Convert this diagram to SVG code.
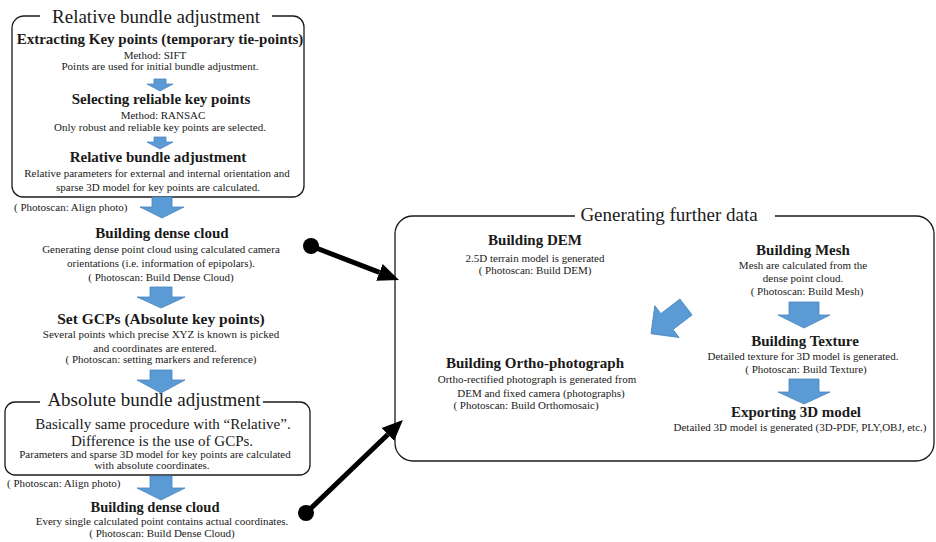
<svg xmlns="http://www.w3.org/2000/svg" width="936" height="542" viewBox="0 0 936 542">
<defs>
<marker id="ah" viewBox="0 -10 22 20" refX="0" refY="0" markerWidth="22" markerHeight="20" orient="auto" markerUnits="userSpaceOnUse"><path d="M0,-9 L21,0 L0,9 z" fill="#000"/></marker>
<marker id="dot" viewBox="-9 -9 18 18" refX="0" refY="0" markerWidth="18" markerHeight="18" markerUnits="userSpaceOnUse"><circle r="8" fill="#000"/></marker>
</defs>
<rect width="936" height="542" fill="#fff"/>
<g font-family="Liberation Serif" fill="#1a1a1a" text-anchor="middle">
<g fill="none" stroke="#1a1a1a" stroke-width="1.3">
<path id="relative-box" d="M40,16 H24 A12,12 0 0 0 12,28 V186 A11,11 0 0 0 23,197 H293 A11,11 0 0 0 304,186 V27 A11,11 0 0 0 293,16 H272"/>
<path id="absolute-frame" d="M40,402 H15 A10,10 0 0 0 5,412 V465 A10,10 0 0 0 15,475 H300 A10,10 0 0 0 310,465 V412 A10,10 0 0 0 300,402 H263"/>
<path id="further-box" d="M575,216 H413 A18,18 0 0 0 395,234 V443 A18,18 0 0 0 413,461 H916 A18,18 0 0 0 934,443 V234 A18,18 0 0 0 916,216 H775"/>
</g>
<g id="relative-title">
<text font-size="19" x="156" y="23">Relative bundle adjustment</text>
</g>
<g id="extract">
<text font-size="15" font-weight="bold" x="160" y="44">Extracting Key points (temporary tie-points)</text>
<text font-size="11" x="155" y="59">Method: SIFT</text>
<text font-size="11" x="160" y="70">Points are used for initial bundle adjustment.</text>
</g>
<g id="select">
<text font-size="15" font-weight="bold" x="161" y="104">Selecting reliable key points</text>
<text font-size="11" x="163" y="119">Method: RANSAC</text>
<text font-size="11" x="160" y="131">Only robust and reliable key points are selected.</text>
</g>
<g id="relative">
<text font-size="15" font-weight="bold" x="158" y="162">Relative bundle adjustment</text>
<text font-size="11" x="157" y="177">Relative parameters for external and internal orientation and</text>
<text font-size="11" x="158" y="191">sparse 3D model for key points are calculated.</text>
</g>
<text font-size="11" text-anchor="start" x="14" y="211">( Photoscan: Align photo)</text>
<g id="dense1">
<text font-size="15" font-weight="bold" x="162" y="238">Building dense cloud</text>
<text font-size="11" x="161" y="253">Generating dense point cloud using calculated camera</text>
<text font-size="11" x="161" y="267">orientations (i.e. information of epipolars).</text>
<text font-size="11" x="161" y="281">( Photoscan: Build Dense Cloud)</text>
</g>
<g id="gcps">
<text font-size="15.5" font-weight="bold" x="161" y="324">Set GCPs (Absolute key points)</text>
<text font-size="11" x="161" y="338">Several points which precise XYZ is known is picked</text>
<text font-size="11" x="155" y="352">and coordinates are entered.</text>
<text font-size="11" x="161" y="363">( Photoscan: setting markers and reference)</text>
</g>
<g id="absolute">
<text font-size="19" x="154" y="406">Absolute bundle adjustment</text>
<text font-size="15" x="163" y="429">Basically same procedure with &#8220;Relative&#8221;.</text>
<text font-size="15" x="162" y="446">Difference is the use of GCPs.</text>
<text font-size="11" x="155" y="458">Parameters and sparse 3D model for key points are calculated</text>
<text font-size="11" x="152" y="469">with absolute coordinates.</text>
</g>
<text font-size="11" text-anchor="start" x="7" y="487">( Photoscan: Align photo)</text>
<g id="dense2">
<text font-size="14.5" font-weight="bold" x="155" y="512">Building dense cloud</text>
<text font-size="11" x="162" y="525">Every single calculated point contains actual coordinates.</text>
<text font-size="11" x="162" y="537">( Photoscan: Build Dense Cloud)</text>
</g>
<g id="further-title">
<text font-size="19" x="669" y="221">Generating further data</text>
</g>
<g id="dem">
<text font-size="15" font-weight="bold" x="535" y="245">Building DEM</text>
<text font-size="11" x="535" y="262">2.5D terrain model is generated</text>
<text font-size="11" x="535" y="274">( Photoscan: Build DEM)</text>
</g>
<g id="mesh">
<text font-size="15" font-weight="bold" x="803" y="255">Building Mesh</text>
<text font-size="11" x="803" y="269">Mesh are calculated from the</text>
<text font-size="11" x="803" y="282">dense point cloud.</text>
<text font-size="11" x="807" y="295">( Photoscan: Build Mesh)</text>
</g>
<g id="texture">
<text font-size="15" font-weight="bold" x="805" y="346">Building Texture</text>
<text font-size="11" x="803" y="360">Detailed texture for 3D model is generated.</text>
<text font-size="11" x="806" y="373">( Photoscan: Build Texture)</text>
</g>
<g id="export">
<text font-size="15" font-weight="bold" x="796" y="417">Exporting 3D model</text>
<text font-size="11" x="800" y="431">Detailed 3D model is generated (3D-PDF, PLY,OBJ, etc.)</text>
</g>
<g id="ortho">
<text font-size="15" font-weight="bold" x="535" y="368">Building Ortho-photograph</text>
<text font-size="11" x="537" y="383">Ortho-rectified photograph is generated from</text>
<text font-size="11" x="541" y="397">DEM and fixed camera (photographs)</text>
<text font-size="11" x="526" y="409">( Photoscan: Build Orthomosaic)</text>
</g>
</g>
<g id="connectors">
<g fill="#5B9BD5" stroke="#4A84BC" stroke-width="0.8">
<polygon points="154,79 166,79 166,84 173,84 160,91 147,84 154,84"/>
<polygon points="154,137 166,137 166,142 173,142 160,149 147,142 154,142"/>
<polygon points="152,197 172,197 172,207 184,207 162,218 140,207 152,207"/>
<polygon points="150,287 172,287 172,297 185,297 161,308 137,297 150,297"/>
<polygon points="150,370 172,370 172,380 185,380 161,393 137,380 150,380"/>
<polygon points="150,476 172,476 172,488 185,488 161,500 137,488 150,488"/>
<polygon points="789,302 819,302 819,315 830,315 804,328 778,315 789,315"/>
<polygon points="789,379 819,379 819,392 830,392 804,404 778,392 789,392"/>
<polygon transform="translate(686,307) rotate(52.6)" points="-10,0 10,0 10,24 20,24 0,44 -20,24 -10,24"/>
</g>
<g stroke="#000" stroke-width="5" fill="none">
<line x1="311" y1="246" x2="379.4" y2="272.4" marker-start="url(#dot)" marker-end="url(#ah)"/>
<line x1="306" y1="513" x2="387.8" y2="434.5" marker-start="url(#dot)" marker-end="url(#ah)"/>
</g>
</g>
</svg>
